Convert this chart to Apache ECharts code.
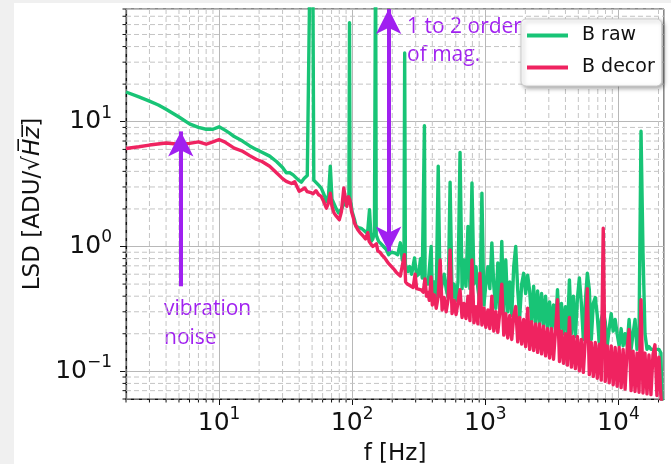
<!DOCTYPE html>
<html><head><meta charset="utf-8">
<script src="https://cdn.jsdelivr.net/npm/echarts@6/dist/echarts.min.js"></script>
<style>html,body{margin:0;padding:0;background:#f0f0f0}#c{width:671px;height:464px}</style>
</head><body><div id="c"></div><script>
// ---- data ----
const seriesNames = ['B raw', 'B decor'];
const freqRaw = [2,2.5,3,3.5,4,5,6,7,8,9,10,11,12,13,15,17,19,21,24,27,30,32,34,36,39,41.5,43.5,46,47.5,48.5,50.5,51.5,53,56,58.6,61.5,64,66.5,68.5,70.5,73,76,79,83,87,90,93,94.5,95.5,96.5,98,100,104,107,112,117,122,127,131,135,139,143,147,148.5,150,151.5,153,158,165,172,180,188,196,208,220,230,238,245,248,251,255,262,270,280,294,305,316,326,336,345,349,353,360,372,392,
  400,414,428,443,458,474,491,508,526,544,563,583,603,624,646,669,692,716,741,767,794,822,851,880,911,943,976,1010,1046,1082,1120,1159,1200,1242,1285,1330,1377,1425,1475,1527,1580,1635,1693,1752,1813,1877,1942,2010,2081,2154,2229,2307,2388,2471,2558,2647,2740,2836,2935,3038,3144,3254,3368,3486,3608,3734,3865,4000,4140,4285,4435,4590,4751,4917,5089,5267,5452,5642,5840,6044,6256,6475,6701,6936,7178,7430,7690,7959,8237,8526,8824,9133,9452,9783,10125,10480,10847,11226,11619,12026,12447,12883,13334,13800,14283,14783,15300,15836,16390,16964,17557,18172,18808,19466,20147,20853,21300];
const lsdRaw = [17.3,15.8,14.6,13.6,12.6,10.9,9.6,9.0,8.7,8.7,9.1,8.6,8.1,7.6,7.0,6.4,6.0,5.7,5.3,4.8,4.3,3.9,3.9,3.75,3.45,3.27,3.5,3.7,3.7,300,300,3.4,3.4,3.1,2.94,2.6,2.3,2.6,4.4,2.4,2.2,2.0,1.86,2.0,2.2,2.37,2.5,2.4,62,2.3,2.2,1.9,1.65,1.45,1.42,1.4,1.35,1.3,1.35,1.97,1.1,1.15,1.3,1.3,300,1.25,1.2,1.1,1.05,1.0,0.95,0.86,0.9,0.89,0.86,1.07,0.78,0.75,35.5,0.72,0.7,0.63,0.69,0.6,0.81,0.58,0.6,0.8,0.56,0.55,9.3,0.55,0.55,0.5,1.0,
  0.42,0.52,0.4,4.4,0.4,0.5,0.6,0.46,0.39,3.27,0.38,0.5,0.37,0.52,5.68,0.46,0.78,0.48,1.45,0.46,3.23,0.5,0.69,0.46,0.35,2.68,0.34,0.5,0.69,0.46,1.07,0.48,0.32,0.74,0.31,1.1,0.3,0.78,0.3,0.52,0.28,0.69,1.0,0.45,0.27,0.5,0.61,0.42,0.59,0.44,0.25,0.48,0.24,0.44,0.24,0.42,0.23,0.4,0.22,0.36,0.22,0.34,0.21,0.45,0.21,0.35,0.2,0.33,0.2,0.54,0.2,0.4,0.19,0.38,0.56,0.35,0.18,0.36,0.61,0.45,0.18,0.35,0.39,0.28,0.17,0.26,0.3,0.25,0.16,0.22,0.29,0.21,0.26,0.2,0.16,0.22,0.16,0.2,0.16,0.26,0.15,0.2,0.26,0.15,0.2,8.4,0.89,0.2,0.15,0.158,0.15,0.155,0.15,0.155,0.15,0.14,0.05];
const freqDecor = [2,2.5,3,4,5,6,7,8,9,10,11,12,13,15,17,19,21,24,27,30,32,35,37,40,42,44,46,49,51,53.5,56,58.6,61,64,66,68.5,70.5,73,76,80,83,86.5,89,91,94,96,99,102,104,107,110,114,118,122,126,131,134,138,143,148,152,156,162,168,174,180,186,192,200,208,215,222,230,238,247,252,260,268,277,287,297,305,315,330,342,352,362,370,380,392,
  400,414,428,443,458,474,491,508,526,544,563,583,603,624,646,669,692,716,741,767,794,822,851,880,911,943,976,1010,1046,1082,1120,1159,1200,1242,1285,1330,1377,1425,1475,1527,1580,1635,1693,1752,1813,1877,1942,2010,2081,2154,2229,2307,2388,2471,2558,2647,2740,2836,2935,3038,3144,3254,3368,3486,3608,3734,3865,4000,4140,4285,4435,4590,4751,4917,5089,5267,5452,5642,5840,6044,6256,6475,6701,6936,7178,7430,7690,7959,8237,8526,8824,9133,9452,9783,10125,10480,10847,11226,11619,12026,12447,12883,13334,13800,14283,14783,15300,15836,16390,16964,17557,18172,18808,19466,20147,20853,21300];
const lsdDecor = [6.1,6.3,6.5,6.75,6.6,6.7,6.9,6.6,6.9,7.2,6.9,6.5,6.15,5.8,5.35,5.0,4.8,4.4,3.9,3.5,3.33,3.2,3.3,2.77,2.85,2.94,2.75,2.7,2.65,2.8,2.6,2.52,2.3,2.03,2.2,2.67,2.1,1.86,1.75,1.64,1.9,2.94,2.4,2.1,2.5,2.37,1.9,1.7,1.54,1.45,1.37,1.3,1.28,1.2,1.15,1.29,1.1,1.05,1.0,0.98,1.05,0.92,0.9,0.85,0.82,0.78,0.74,0.72,0.68,0.65,0.62,0.6,0.58,0.56,0.86,0.52,0.5,0.49,0.48,0.47,0.6,0.46,0.45,0.45,0.43,0.55,0.4,0.43,0.37,0.57,
  0.34,0.41,0.32,0.4,0.78,0.31,0.39,0.3,0.38,0.94,0.29,0.37,0.285,0.36,0.45,0.27,0.35,0.265,0.4,0.255,0.78,0.245,0.33,0.24,0.61,0.235,0.32,0.225,0.31,0.22,0.4,0.21,0.3,0.205,0.3,0.5,0.195,0.29,0.185,0.28,0.18,0.28,0.33,0.172,0.27,0.165,0.26,0.158,0.32,0.15,0.25,0.147,0.24,0.142,0.24,0.138,0.23,0.133,0.22,0.128,0.22,0.125,0.21,0.375,0.12,0.21,0.116,0.2,0.112,0.27,0.108,0.19,0.105,0.19,0.101,0.18,0.098,0.18,0.46,0.094,0.17,0.091,0.17,0.088,0.165,0.085,1.4,0.083,0.16,0.081,0.16,0.078,0.155,0.076,0.155,0.074,0.15,0.072,0.15,0.216,0.07,0.145,0.069,0.14,0.068,0.375,0.067,0.14,0.066,0.135,0.065,0.135,0.163,0.064,0.13,0.063,0.05];
const xRange = [2, 22000];
const yRange = [0.06, 80];
const xDecades = [1, 10, 100, 1000, 10000];
const yDecades = [0.01, 0.1, 1, 10];
const minorSteps = [2, 3, 4, 5, 6, 7, 8, 9];
const vibArrow = { f: 5.16, from: 0.48, to: 8.36 };
const magArrow = { f: 188, from: 0.914, to: 80 };
const annColor = '#a020f0';
// ---------------------------------------

const pairs = (fx, fy) => fx.map((f, i) => [f, fy[i]]);
const minorX = [], minorY = [];
xDecades.forEach(d => minorSteps.forEach(k => { const v = k * d; if (v >= xRange[0] && v <= xRange[1]) minorX.push([v, 1]); }));
yDecades.forEach(d => minorSteps.forEach(k => { const v = +(k * d).toPrecision(3); if (v >= yRange[0] && v <= yRange[1]) minorY.push([10, v]); }));

const font = 'DejaVu Sans';
function supLabel(v) {
  const e = Math.log10(v), r = Math.round(e);
  if (Math.abs(e - r) > 1e-6) return '';
  return '{b|10}{s|' + (r < 0 ? '\u2212' + (-r) : r) + '}';
}
const labelRich = {
  b: { fontSize: 25, lineHeight: 34, fontFamily: font, color: '#111' },
  s: { fontSize: 17, lineHeight: 18, fontFamily: font, color: '#111', verticalAlign: 'top' }
};
const minorGrid = { stroke: '#c4c4c4', lineWidth: 1, lineDash: [5, 3] };
const greenC = '#18c476', redC = '#ef2360';

const chart = echarts.init(document.getElementById('c'), null, { renderer: 'canvas' });
chart.setOption({
  animation: false,
  backgroundColor: 'transparent',
  graphic: [
    { type: 'rect', z: -100, shape: { x: 14, y: 3, width: 657, height: 461 }, style: { fill: '#ffffff' }, silent: true },
    { type: 'text', z: 1, style: { text: 'vibration\nnoise', x: 164, y: 295, fill: annColor, font: '21px "Open Sans"', lineHeight: 29, verticalAlign: 'top' }, silent: true },
    { type: 'text', z: 1, style: { text: '1 to 2 orders\nof mag.', x: 407, y: 13, fill: annColor, font: '21px "Open Sans"', lineHeight: 28, verticalAlign: 'top' }, silent: true }
  ],
  grid: { left: 126, right: 7, top: 9, bottom: 65, show: true, borderColor: '#111', borderWidth: 1, backgroundColor: 'transparent', containLabel: false, outerBoundsMode: 'none' },
  legend: {
    data: [{ name: seriesNames[0], icon: 'rect', itemStyle: { color: greenC } }, { name: seriesNames[1], icon: 'rect', itemStyle: { color: redC } }],
    orient: 'vertical', left: 521, top: 19, z: 10,
    itemWidth: 41, itemHeight: 4, itemGap: 13,
    padding: [7, 7, 9, 6],
    backgroundColor: '#fff', borderColor: '#cccccc', borderWidth: 1, borderRadius: 5,
    shadowBlur: 4, shadowColor: 'rgba(0,0,0,0.35)', shadowOffsetX: 2, shadowOffsetY: 2,
    textStyle: { fontFamily: font, fontSize: 19, color: '#111', padding: [0, 0, 0, 9] }
  },
  xAxis: {
    type: 'log', logBase: 10, min: xRange[0], max: xRange[1],
    name: 'f [Hz]', nameLocation: 'middle', nameGap: 44,
    nameTextStyle: { fontFamily: font, fontSize: 23, color: '#111' },
    axisLine: { lineStyle: { color: '#111', width: 1.2 } },
    axisTick: { length: 6, lineStyle: { color: '#111' } },
    axisLabel: { formatter: supLabel, rich: labelRich, margin: 7, showMinLabel: false, showMaxLabel: false },
    splitLine: { show: true, lineStyle: { color: '#b8b8b8', width: 1 } },
    minorTick: { show: false }, minorSplitLine: { show: false }
  },
  yAxis: {
    type: 'log', logBase: 10, min: yRange[0], max: yRange[1],
    name: 'LSD [ADU/\u221a{i|H\u0305z\u0305}]', nameLocation: 'middle', nameGap: 76, nameRotate: 90,
    nameTextStyle: { fontFamily: font, fontSize: 23, color: '#111', rich: { i: { fontFamily: font, fontSize: 23, fontStyle: 'italic', color: '#111' } } },
    axisLine: { lineStyle: { color: '#111', width: 1.2 } },
    axisTick: { length: 6, lineStyle: { color: '#111' } },
    axisLabel: { formatter: supLabel, rich: labelRich, margin: 14, showMinLabel: false, showMaxLabel: false },
    splitLine: { show: true, lineStyle: { color: '#b8b8b8', width: 1 } },
    minorTick: { show: false }, minorSplitLine: { show: false }
  },
  series: [
    {
      type: 'custom', silent: true, z: 1, clip: false, data: minorX,
      renderItem: (params, api) => {
        const cs = params.coordSys, x = api.coord([api.value(0), 1])[0], b = cs.y + cs.height;
        return { type: 'group', children: [
          { type: 'line', shape: { x1: x, y1: cs.y, x2: x, y2: b }, style: minorGrid },
          { type: 'line', shape: { x1: x, y1: b, x2: x, y2: b + 3.5 }, style: { stroke: '#111', lineWidth: 1 } }
        ] };
      }
    },
    {
      type: 'custom', silent: true, z: 1, clip: false, data: minorY,
      renderItem: (params, api) => {
        const cs = params.coordSys, y = api.coord([10, api.value(1)])[1];
        return { type: 'group', children: [
          { type: 'line', shape: { x1: cs.x, y1: y, x2: cs.x + cs.width, y2: y }, style: minorGrid },
          { type: 'line', shape: { x1: cs.x, y1: y, x2: cs.x - 3.5, y2: y }, style: { stroke: '#111', lineWidth: 1 } }
        ] };
      }
    },
    {
      name: seriesNames[0], type: 'line', z: 3, data: pairs(freqRaw, lsdRaw),
      symbol: 'none', showSymbol: false, clip: true,
      lineStyle: { color: greenC, width: 3.4, join: 'round' }, itemStyle: { color: greenC }
    },
    {
      name: seriesNames[1], type: 'line', z: 3, data: pairs(freqDecor, lsdDecor),
      symbol: 'none', showSymbol: false, clip: true,
      lineStyle: { color: redC, width: 3.4, join: 'round' }, itemStyle: { color: redC }
    },
    {
      type: 'line', z: 5, data: [], silent: true,
      markLine: {
        silent: true, symbol: ['none', 'arrow'], symbolSize: [19, 25],
        label: { show: false }, lineStyle: { color: annColor, width: 4, type: 'solid' },
        emphasis: { disabled: true },
        data: [[{ coord: [vibArrow.f, vibArrow.from] }, { coord: [vibArrow.f, vibArrow.to] }]]
      }
    },
    {
      type: 'line', z: 5, data: [], silent: true,
      markLine: {
        silent: true, symbol: ['arrow', 'arrow'], symbolSize: [19, 25],
        label: { show: false }, lineStyle: { color: annColor, width: 4, type: 'solid' },
        emphasis: { disabled: true },
        data: [[{ coord: [magArrow.f, magArrow.from] }, { coord: [magArrow.f, magArrow.to] }]]
      }
    }
  ]
});
</script></body></html>
